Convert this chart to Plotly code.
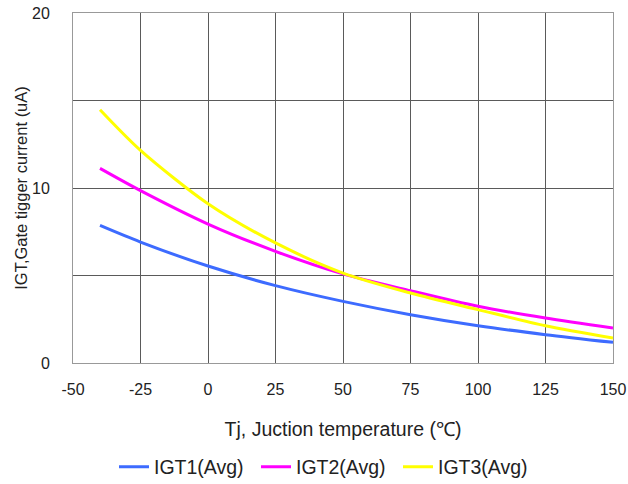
import plotly.graph_objects as go

temps = [-40, -25, 0, 25, 50, 75, 100, 125, 150]
igt1 = [7.86, 6.91, 5.54, 4.42, 3.52, 2.76, 2.13, 1.62, 1.18]
igt2 = [11.12, 9.85, 7.94, 6.38, 5.09, 4.13, 3.24, 2.57, 2.0]
igt3 = [14.47, 12.15, 9.10, 6.86, 5.14, 4.0, 3.05, 2.13, 1.43]

names = ["IGT1(Avg)", "IGT2(Avg)", "IGT3(Avg)"]
colors = ["#3D6BFF", "#FF00FF", "#FFFF00"]

x_ticks = [-50, -25, 0, 25, 50, 75, 100, 125, 150]
y_ticks = [0, 5, 10, 15, 20]
y_labels = ["0", "", "10", "", "20"]

fig = go.Figure()
for name, ys, c in zip(names, [igt1, igt2, igt3], colors):
    fig.add_trace(go.Scatter(x=temps, y=ys, name=name, mode="lines",
                             line=dict(color=c, width=3, shape="spline", smoothing=0.8)))

font = "Liberation Sans, Arial, sans-serif"
fig.update_layout(
    width=628, height=484,
    margin=dict(l=73, r=15, t=13, b=121),
    plot_bgcolor="white", paper_bgcolor="white",
    font=dict(family=font, size=16, color="#222"),
    showlegend=True,
    legend=dict(orientation="h", x=0.5 + 13 / 628, xanchor="center", xref="container",
                y=17 / 484, yanchor="middle", yref="container",
                font=dict(size=19.5, color="#222"), itemwidth=30, tracegroupgap=0,
                entrywidth=97, entrywidthmode="pixels"),
    xaxis=dict(range=[-50, 150], tickvals=x_ticks, ticktext=[str(v) for v in x_ticks],
               showgrid=True, gridcolor="#5a5a5a", gridwidth=1, zeroline=False,
               showline=True, linecolor="#999", linewidth=1, mirror=True,
               ticks="", tickfont=dict(size=16), automargin=False, ticklabelstandoff=12,
               title=dict(text="Tj, Juction temperature (℃)", font=dict(size=19.5), standoff=25)),
    yaxis=dict(range=[0, 20], tickvals=y_ticks, ticktext=y_labels,
               showgrid=True, gridcolor="#5a5a5a", gridwidth=1, zeroline=False,
               showline=True, linecolor="#999", linewidth=1, mirror=True,
               ticks="", tickfont=dict(size=16), automargin=False, ticklabelstandoff=19,
               title=dict(text="IGT,Gate tigger current (uA)", font=dict(size=16.5), standoff=0)),
)

fig.write_html("out.html", config={"displayModeBar": False},
               post_script="document.body.style.margin='0';document.body.style.padding='0';")
